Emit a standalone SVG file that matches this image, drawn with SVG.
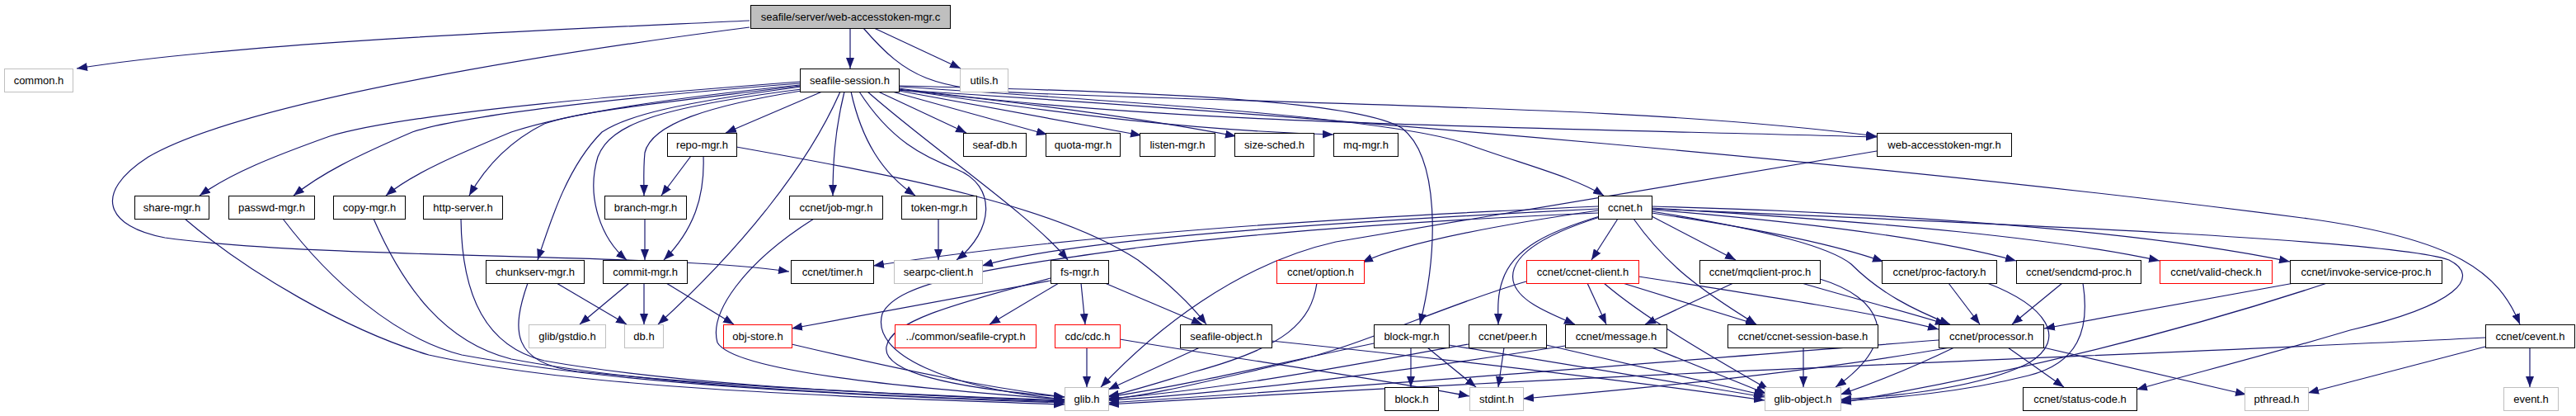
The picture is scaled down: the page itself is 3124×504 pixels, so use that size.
<svg xmlns="http://www.w3.org/2000/svg" width="3124" height="504" viewBox="0 0 3124 504">
<style>
.node rect{fill:#fff;stroke:#000;stroke-width:1}
.gray rect{stroke:#bfbfbf}
.red rect{stroke:#f00}
.root rect{fill:#bfbfbf}
text{font-family:"Liberation Sans",Arial,sans-serif;font-size:13px;text-anchor:middle;fill:#000}
#edges path{fill:none;stroke:#191970;stroke-width:1.2;marker-end:url(#arr)}
</style>
<defs>
<marker id="arr" viewBox="0 0 13 10" markerWidth="13" markerHeight="10" refX="13" refY="5" orient="auto" markerUnits="userSpaceOnUse"><path d="M0,0L13,5L0,10z" fill="#191970"/></marker>
</defs>
<rect width="3124" height="504" fill="#fff"/>
<g id="edges">
<path d="M909,25 C700,35 300,50 93,83"/>
<path d="M909,33 C700,60 300,120 180,190 C110,235 130,275 200,288 C400,315 800,306 957,329"/>
<path d="M1031,34 L1031,83"/>
<path d="M1060,34 L1165,83"/>
<path d="M1047,34 C1100,95 1130,108 1250,113 C1700,130 2000,130 2276,165"/>
<path d="M970,99 C800,112 500,135 400,165 C330,190 280,210 242,237"/>
<path d="M970,101 C750,118 560,140 500,160 C430,190 390,210 356,237"/>
<path d="M970,103 C800,120 680,140 620,160 C560,185 500,210 468,237"/>
<path d="M970,104 C800,125 700,135 660,150 C620,170 590,200 569,237"/>
<path d="M972,105 C820,125 760,140 730,160 C690,200 670,260 652,315"/>
<path d="M972,108 C800,130 740,150 725,190 C710,240 730,290 760,315"/>
<path d="M972,110 C860,128 790,150 782,185 C780,205 781,220 781,237"/>
<path d="M997,111 L880,161"/>
<path d="M1019,111 C980,200 900,300 798,393"/>
<path d="M1024,111 C1012,160 1010,200 1010,237"/>
<path d="M1032,111 C1045,170 1070,210 1110,237"/>
<path d="M1042,111 C1080,170 1120,190 1160,205 C1210,225 1205,280 1160,315"/>
<path d="M1052,111 C1130,180 1250,260 1295,315"/>
<path d="M893,178 C1100,215 1280,250 1380,315 C1420,345 1445,370 1463,393"/>
<path d="M1065,111 L1172,161"/>
<path d="M1082,111 L1270,163"/>
<path d="M1090,110 L1384,164"/>
<path d="M1090,109 C1300,130 1420,150 1499,165"/>
<path d="M1090,108 C1300,140 1450,158 1617,163"/>
<path d="M1090,107 C1400,150 1800,153 2276,166"/>
<path d="M1090,105 C1400,125 1700,145 1780,175 C1850,200 1910,215 1945,237"/>
<path d="M1090,104 C1450,112 1650,125 1700,155 C1745,190 1745,300 1722,393"/>
<path d="M1090,109 C1600,140 2300,200 2800,265 C2980,290 3030,330 3056,393"/>
<path d="M1938,250 C1600,265 1300,285 1059,322"/>
<path d="M1938,253 C1600,270 1300,290 1191,322"/>
<path d="M1938,258 C1700,268 1500,285 1380,300 C1200,325 1090,340 1070,380 C1055,430 1150,470 1291,484"/>
<path d="M2276,183 C2000,230 1750,270 1620,293 C1500,320 1400,400 1335,469"/>
<path d="M1938,255 C1800,275 1700,295 1652,318"/>
<path d="M1962,265 L1930,315"/>
<path d="M1940,262 C1880,280 1835,300 1822,340 C1815,360 1817,380 1817,393"/>
<path d="M1940,263 C1870,285 1830,310 1835,340 C1840,365 1880,380 1910,393"/>
<path d="M1981,265 C2020,320 2060,350 2130,393"/>
<path d="M2003,262 L2105,315"/>
<path d="M2003,258 C2150,280 2230,298 2284,317"/>
<path d="M2003,256 C2150,280 2220,300 2245,320 C2280,355 2320,375 2365,393"/>
<path d="M2003,254 C2200,270 2350,290 2445,316"/>
<path d="M2003,252 C2300,270 2500,290 2619,316"/>
<path d="M2003,250 C2300,258 2600,280 2777,317"/>
<path d="M2003,253 C2400,270 2900,290 2970,315 C3010,335 2980,370 2850,400 C2750,430 2650,455 2591,472"/>
<path d="M1597,343 C1590,390 1560,420 1450,450 C1400,465 1370,475 1344,480"/>
<path d="M1851,341 C1750,370 1650,420 1560,440 C1450,465 1400,478 1344,484"/>
<path d="M1925,343 L1948,393"/>
<path d="M1968,343 L2130,393"/>
<path d="M1945,343 C2000,390 2090,440 2145,472"/>
<path d="M1987,335 C2150,360 2280,380 2351,399"/>
<path d="M2102,343 L1995,393"/>
<path d="M2207,338 C2280,360 2310,410 2226,469"/>
<path d="M2185,343 C2260,365 2320,380 2360,393"/>
<path d="M2363,343 L2401,393"/>
<path d="M2410,343 C2480,370 2510,410 2460,440 C2400,470 2300,480 2232,484"/>
<path d="M2501,343 L2440,393"/>
<path d="M2526,343 C2535,400 2520,440 2460,455 C2380,475 2300,482 2232,486"/>
<path d="M2782,343 L2479,398"/>
<path d="M2822,343 C2650,400 2450,450 2232,488"/>
<path d="M2370,421 C2320,445 2270,465 2232,478"/>
<path d="M2351,412 C2000,440 1700,465 1344,488"/>
<path d="M3014,409 C2600,430 2000,450 1344,490"/>
<path d="M2365,421 C2200,450 2000,470 1847,483"/>
<path d="M2435,421 L2503,469"/>
<path d="M2478,421 L2724,478"/>
<path d="M3014,420 L2799,476"/>
<path d="M3068,421 L3068,469"/>
<path d="M2187,421 L2187,469"/>
<path d="M2003,421 L2142,477"/>
<path d="M1898,419 C1700,450 1500,475 1344,485"/>
<path d="M1781,417 C1650,440 1500,470 1344,483"/>
<path d="M1824,421 L1817,469"/>
<path d="M1875,418 L2140,479"/>
<path d="M1666,416 C1550,440 1450,465 1344,481"/>
<path d="M1711,421 L1711,469"/>
<path d="M1731,421 L1790,469"/>
<path d="M1757,418 L2140,481"/>
<path d="M1318,421 L1318,469"/>
<path d="M1358,411 C1500,435 1650,455 1782,480"/>
<path d="M1455,421 L1344,472"/>
<path d="M1542,413 C1800,440 2000,465 2140,485"/>
<path d="M1284,343 L1200,393"/>
<path d="M1311,343 L1316,393"/>
<path d="M1340,343 L1458,393"/>
<path d="M1274,340 L960,398"/>
<path d="M1274,337 C1150,370 1080,390 1075,420 C1070,450 1150,470 1291,481"/>
<path d="M960,417 C1100,450 1200,470 1291,481"/>
<path d="M808,343 L890,393"/>
<path d="M781,343 L781,393"/>
<path d="M763,343 L703,393"/>
<path d="M675,343 L760,393"/>
<path d="M640,343 C620,400 620,440 700,450 C900,470 1100,478 1291,485"/>
<path d="M224,265 C300,330 420,400 520,430 C700,470 1000,480 1291,490"/>
<path d="M343,265 C400,340 480,410 560,430 C750,465 1000,478 1291,488"/>
<path d="M453,265 C490,350 540,415 620,435 C780,465 1000,478 1291,487"/>
<path d="M559,265 C560,360 590,420 660,437 C800,462 1000,475 1291,486"/>
<path d="M987,265 C900,320 860,380 870,415 C890,450 1100,470 1291,484"/>
<path d="M1138,265 L1138,315"/>
<path d="M838,189 L802,237"/>
<path d="M853,189 C855,240 840,280 805,315"/>
<path d="M782,265 L782,315"/>
</g>
<g id="n-root" class="node root"><rect x="910.5" y="6.5" width="242" height="28"/><text x="1031.5" y="24.5">seafile/server/web-accesstoken-mgr.c</text></g>
<g id="n-common" class="node gray"><rect x="5.5" y="83.5" width="83" height="28"/><text x="47" y="101.5">common.h</text></g>
<g id="n-session" class="node"><rect x="970.5" y="83.5" width="120" height="28"/><text x="1030.5" y="101.5">seafile-session.h</text></g>
<g id="n-utils" class="node gray"><rect x="1164.5" y="83.5" width="58" height="28"/><text x="1193.5" y="101.5">utils.h</text></g>
<g id="n-repo" class="node"><rect x="809.5" y="161.5" width="84" height="28"/><text x="851.5" y="179.5">repo-mgr.h</text></g>
<g id="n-seafdb" class="node"><rect x="1168.5" y="161.5" width="76" height="28"/><text x="1206.5" y="179.5">seaf-db.h</text></g>
<g id="n-quota" class="node"><rect x="1268.5" y="161.5" width="90" height="28"/><text x="1313.5" y="179.5">quota-mgr.h</text></g>
<g id="n-listen" class="node"><rect x="1382.5" y="161.5" width="91" height="28"/><text x="1428" y="179.5">listen-mgr.h</text></g>
<g id="n-sizesched" class="node"><rect x="1497.5" y="161.5" width="96" height="28"/><text x="1545.5" y="179.5">size-sched.h</text></g>
<g id="n-mq" class="node"><rect x="1617.5" y="161.5" width="78" height="28"/><text x="1656.5" y="179.5">mq-mgr.h</text></g>
<g id="n-webtok" class="node"><rect x="2276.5" y="161.5" width="163" height="28"/><text x="2358" y="179.5">web-accesstoken-mgr.h</text></g>
<g id="n-share" class="node"><rect x="163.5" y="237.5" width="90" height="28"/><text x="208.5" y="255.5">share-mgr.h</text></g>
<g id="n-passwd" class="node"><rect x="277.5" y="237.5" width="104" height="28"/><text x="329.5" y="255.5">passwd-mgr.h</text></g>
<g id="n-copy" class="node"><rect x="404.5" y="237.5" width="87" height="28"/><text x="448" y="255.5">copy-mgr.h</text></g>
<g id="n-http" class="node"><rect x="513.5" y="237.5" width="96" height="28"/><text x="561.5" y="255.5">http-server.h</text></g>
<g id="n-branch" class="node"><rect x="733.5" y="237.5" width="99" height="28"/><text x="783" y="255.5">branch-mgr.h</text></g>
<g id="n-jobmgr" class="node"><rect x="957.5" y="237.5" width="113" height="28"/><text x="1014" y="255.5">ccnet/job-mgr.h</text></g>
<g id="n-token" class="node"><rect x="1093.5" y="237.5" width="91" height="28"/><text x="1139" y="255.5">token-mgr.h</text></g>
<g id="n-ccnet" class="node"><rect x="1938.5" y="237.5" width="65" height="28"/><text x="1971" y="255.5">ccnet.h</text></g>
<g id="n-chunkserv" class="node"><rect x="589.5" y="315.5" width="119" height="28"/><text x="649" y="333.5">chunkserv-mgr.h</text></g>
<g id="n-commit" class="node"><rect x="731.5" y="315.5" width="102" height="28"/><text x="782.5" y="333.5">commit-mgr.h</text></g>
<g id="n-timer" class="node"><rect x="959.5" y="315.5" width="100" height="28"/><text x="1009.5" y="333.5">ccnet/timer.h</text></g>
<g id="n-searpc" class="node gray"><rect x="1084.5" y="315.5" width="107" height="28"/><text x="1138" y="333.5">searpc-client.h</text></g>
<g id="n-fsmgr" class="node"><rect x="1274.5" y="315.5" width="70" height="28"/><text x="1309.5" y="333.5">fs-mgr.h</text></g>
<g id="n-option" class="node red"><rect x="1548.5" y="315.5" width="106" height="28"/><text x="1601.5" y="333.5">ccnet/option.h</text></g>
<g id="n-client" class="node red"><rect x="1851.5" y="315.5" width="136" height="28"/><text x="1919.5" y="333.5">ccnet/ccnet-client.h</text></g>
<g id="n-mqclient" class="node"><rect x="2061.5" y="315.5" width="146" height="28"/><text x="2134.5" y="333.5">ccnet/mqclient-proc.h</text></g>
<g id="n-procfactory" class="node"><rect x="2282.5" y="315.5" width="139" height="28"/><text x="2352" y="333.5">ccnet/proc-factory.h</text></g>
<g id="n-sendcmd" class="node"><rect x="2445.5" y="315.5" width="151" height="28"/><text x="2521" y="333.5">ccnet/sendcmd-proc.h</text></g>
<g id="n-validcheck" class="node red"><rect x="2619.5" y="315.5" width="136" height="28"/><text x="2687.5" y="333.5">ccnet/valid-check.h</text></g>
<g id="n-invoke" class="node"><rect x="2777.5" y="315.5" width="184" height="28"/><text x="2869.5" y="333.5">ccnet/invoke-service-proc.h</text></g>
<g id="n-gstdio" class="node gray"><rect x="641.5" y="393.5" width="93" height="28"/><text x="688" y="411.5">glib/gstdio.h</text></g>
<g id="n-db" class="node gray"><rect x="757.5" y="393.5" width="47" height="28"/><text x="781" y="411.5">db.h</text></g>
<g id="n-objstore" class="node red"><rect x="877.5" y="393.5" width="83" height="28"/><text x="919" y="411.5">obj-store.h</text></g>
<g id="n-crypt" class="node red"><rect x="1085.5" y="393.5" width="171" height="28"/><text x="1171" y="411.5">../common/seafile-crypt.h</text></g>
<g id="n-cdc" class="node red"><rect x="1279.5" y="393.5" width="79" height="28"/><text x="1319" y="411.5">cdc/cdc.h</text></g>
<g id="n-seafobj" class="node"><rect x="1431.5" y="393.5" width="111" height="28"/><text x="1487" y="411.5">seafile-object.h</text></g>
<g id="n-blockmgr" class="node"><rect x="1666.5" y="393.5" width="91" height="28"/><text x="1712" y="411.5">block-mgr.h</text></g>
<g id="n-peer" class="node"><rect x="1781.5" y="393.5" width="94" height="28"/><text x="1828.5" y="411.5">ccnet/peer.h</text></g>
<g id="n-message" class="node"><rect x="1898.5" y="393.5" width="123" height="28"/><text x="1960" y="411.5">ccnet/message.h</text></g>
<g id="n-sessbase" class="node"><rect x="2095.5" y="393.5" width="182" height="28"/><text x="2186.5" y="411.5">ccnet/ccnet-session-base.h</text></g>
<g id="n-processor" class="node"><rect x="2351.5" y="393.5" width="127" height="28"/><text x="2415" y="411.5">ccnet/processor.h</text></g>
<g id="n-cevent" class="node"><rect x="3014.5" y="393.5" width="108" height="28"/><text x="3068.5" y="411.5">ccnet/cevent.h</text></g>
<g id="n-glib" class="node gray"><rect x="1291.5" y="469.5" width="53" height="28"/><text x="1318" y="487.5">glib.h</text></g>
<g id="n-block" class="node"><rect x="1679.5" y="469.5" width="65" height="28"/><text x="1712" y="487.5">block.h</text></g>
<g id="n-stdint" class="node gray"><rect x="1782.5" y="469.5" width="65" height="28"/><text x="1815" y="487.5">stdint.h</text></g>
<g id="n-globject" class="node gray"><rect x="2140.5" y="469.5" width="92" height="28"/><text x="2186.5" y="487.5">glib-object.h</text></g>
<g id="n-status" class="node"><rect x="2453.5" y="469.5" width="138" height="28"/><text x="2522.5" y="487.5">ccnet/status-code.h</text></g>
<g id="n-pthread" class="node gray"><rect x="2722.5" y="469.5" width="77" height="28"/><text x="2761" y="487.5">pthread.h</text></g>
<g id="n-event" class="node gray"><rect x="3036.5" y="469.5" width="66" height="28"/><text x="3069.5" y="487.5">event.h</text></g>
</svg>
